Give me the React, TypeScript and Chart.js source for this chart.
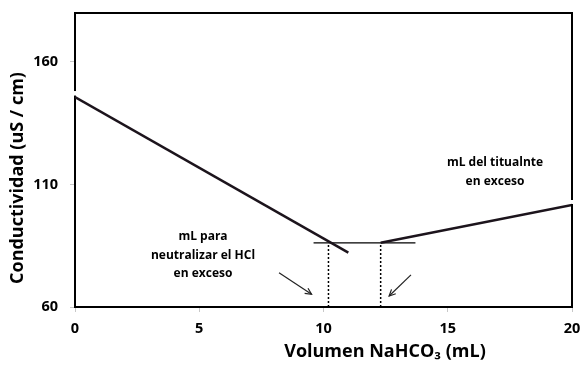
import React, { useEffect, useRef } from "react";
import { Chart, registerables } from "chart.js";

Chart.register(...registerables);

// Axis ticks
const xTicks = [0, 5, 10, 15, 20];
const yTicks = [60, 110, 160];

// Conductometric titration branches (mL, uS/cm)
const acidBranch = [
  { x: 0, y: 145.7 },
  { x: 11, y: 82.2 },
];
const baseBranch = [
  { x: 12.3, y: 86.2 },
  { x: 20, y: 101.6 },
];
const plateau = [
  { x: 9.6, y: 86.2 },
  { x: 13.7, y: 86.2 },
];
const equivLeft = [
  { x: 10.2, y: 60 },
  { x: 10.2, y: 86.2 },
];
const equivRight = [
  { x: 12.3, y: 60 },
  { x: 12.3, y: 86.2 },
];
const arrowLeft = [
  { x: 8.21, y: 74.0 },
  { x: 9.52, y: 65.2 },
];
const arrowRight = [
  { x: 13.52, y: 73.1 },
  { x: 12.64, y: 64.5 },
];

const FONT = "'Open Sans', Lato, sans-serif";

const notesPlugin = {
  id: "notes",
  afterDatasetsDraw(chart: any) {
    const { ctx, chartArea, scales } = chart;
    const xs = scales.x;
    const ys = scales.y;
    ctx.save();

    // small breaks in the frame just above where the branches meet it
    const yStart = ys.getPixelForValue(acidBranch[0].y);
    const yEnd = ys.getPixelForValue(baseBranch[baseBranch.length - 1].y);
    ctx.fillStyle = "#fff";
    ctx.fillRect(chartArea.left - 2, yStart - 6, 4, 4.5);

    // top and right frame
    ctx.strokeStyle = "#000";
    ctx.lineWidth = 2;
    ctx.beginPath();
    ctx.moveTo(chartArea.left - 1, chartArea.top);
    ctx.lineTo(chartArea.right, chartArea.top);
    ctx.lineTo(chartArea.right, yEnd - 5);
    ctx.moveTo(chartArea.right, yEnd - 1);
    ctx.lineTo(chartArea.right, chartArea.bottom + 1);
    ctx.stroke();

    // arrow heads
    const head = (pts: { x: number; y: number }[]) => {
      const x0 = xs.getPixelForValue(pts[0].x);
      const y0 = ys.getPixelForValue(pts[0].y);
      const x1 = xs.getPixelForValue(pts[1].x);
      const y1 = ys.getPixelForValue(pts[1].y);
      const a = Math.atan2(y1 - y0, x1 - x0);
      const L = 7;
      ctx.strokeStyle = "#222";
      ctx.lineWidth = 1.2;
      ctx.beginPath();
      ctx.moveTo(x1 - L * Math.cos(a - 0.45), y1 - L * Math.sin(a - 0.45));
      ctx.lineTo(x1, y1);
      ctx.lineTo(x1 - L * Math.cos(a + 0.45), y1 - L * Math.sin(a + 0.45));
      ctx.stroke();
    };
    head(arrowLeft);
    head(arrowRight);

    // annotations
    ctx.fillStyle = "#000";
    ctx.textAlign = "center";
    ctx.textBaseline = "middle";
    ctx.font = `bold 12px ${FONT}`;
    ctx.fillText("mL para", 203, 237);
    ctx.fillText("neutralizar el HCl", 203, 256);
    ctx.fillText("en exceso", 203, 274);
    ctx.fillText("mL del titualnte", 495, 163);
    ctx.fillText("en exceso", 495, 182);

    // axis titles
    ctx.font = `bold 18px ${FONT}`;
    ctx.fillText("Volumen NaHCO\u2083 (mL)", 385, 352);
    ctx.save();
    ctx.translate(18, 178);
    ctx.rotate(-Math.PI / 2);
    ctx.fillText("Conductividad (uS / cm)", 0, 0);
    ctx.restore();

    ctx.restore();
  },
};

export default function App() {
  const ref = useRef<HTMLCanvasElement>(null);

  useEffect(() => {
    if (!ref.current) return;
    const solid = (data: any[], w: number, color = "#1c141c") => ({
      data,
      borderColor: color,
      borderWidth: w,
      pointRadius: 0,
      showLine: true,
      fill: false,
      tension: 0,
    });
    const chart = new Chart(ref.current, {
      type: "scatter",
      data: {
        datasets: [
          solid(acidBranch, 2.5),
          solid(baseBranch, 2.5),
          solid(plateau, 1.3, "#000"),
          { ...solid(equivLeft, 1.5, "#000"), borderDash: [2, 2] },
          { ...solid(equivRight, 1.5, "#000"), borderDash: [2, 2] },
          solid(arrowLeft, 1.2, "#222"),
          solid(arrowRight, 1.2, "#222"),
        ],
      },
      options: {
        animation: false,
        responsive: false,
        layout: { padding: { top: 13, right: 9, left: 0, bottom: 0 } },
        plugins: { legend: { display: false }, tooltip: { enabled: false } },
        scales: {
          x: {
            type: "linear",
            min: 0,
            max: 20,
            afterBuildTicks: (s: any) => {
              s.ticks = xTicks.map((v) => ({ value: v }));
            },
            afterFit: (s: any) => {
              s.height = 58;
              s.paddingLeft = 0;
              s.paddingRight = 0;
            },
            grid: {
              drawOnChartArea: false,
              drawTicks: true,
              tickLength: 5,
              color: "#c8c8c8",
            },
            border: { display: true, color: "#000", width: 2 },
            ticks: {
              padding: 8,
              color: "#000",
              font: { family: FONT, size: 14.5, weight: "bold" },
              maxRotation: 0,
            },
          },
          y: {
            type: "linear",
            min: 60,
            max: 180,
            afterBuildTicks: (s: any) => {
              s.ticks = yTicks.map((v) => ({ value: v }));
            },
            afterFit: (s: any) => {
              s.width = 75;
              s.paddingTop = 0;
              s.paddingBottom = 0;
            },
            grid: {
              drawOnChartArea: false,
              drawTicks: true,
              tickLength: 5,
              color: "#c8c8c8",
            },
            border: { display: true, color: "#000", width: 2 },
            ticks: {
              padding: 12,
              color: "#000",
              font: { family: FONT, size: 14.5, weight: "bold" },
            },
          },
        },
      },
      plugins: [notesPlugin],
    });
    return () => chart.destroy();
  }, []);

  return (
    <div style={{ position: "absolute", left: 0, top: 0, width: 581, height: 365, background: "#fff" }}>
      <canvas ref={ref} width={581} height={365} />
    </div>
  );
}
